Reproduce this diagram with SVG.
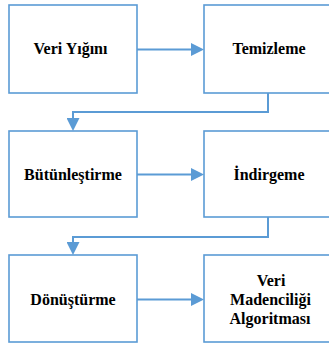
<svg xmlns="http://www.w3.org/2000/svg" width="329" height="347" viewBox="0 0 329 347">
<style>
.box{fill:#fff;stroke:#5B9BD5;stroke-width:1.6}
.conn{fill:none;stroke:#5B9BD5;stroke-width:2}
</style>
<defs>
<marker id="ah" markerUnits="userSpaceOnUse" markerWidth="13" markerHeight="13" refX="2" refY="6.5" orient="auto">
<path d="M0,0 L13,6.5 L0,13 Z" fill="#5B9BD5"/>
</marker>
</defs>
<rect width="329" height="347" fill="#fff"/>
<g id="n1"><rect class="box" x="9" y="5" width="128" height="88"/><text x="70.5" y="53.5" font-family="Liberation Serif" font-weight="bold" font-size="16" text-anchor="middle">Veri Yığını</text></g>
<g id="n2"><rect class="box" x="204" y="5" width="130" height="88"/><text x="269" y="53.5" font-family="Liberation Serif" font-weight="bold" font-size="16" text-anchor="middle">Temizleme</text></g>
<g id="n3"><rect class="box" x="9" y="131" width="128" height="86"/><text x="73" y="179.5" font-family="Liberation Serif" font-weight="bold" font-size="16" text-anchor="middle">Bütünleştirme</text></g>
<g id="n4"><rect class="box" x="204" y="131" width="130" height="86"/><text x="269" y="179.5" font-family="Liberation Serif" font-weight="bold" font-size="16" text-anchor="middle">İndirgeme</text></g>
<g id="n5"><rect class="box" x="9" y="255" width="128" height="87"/><text x="73" y="305" font-family="Liberation Serif" font-weight="bold" font-size="16" text-anchor="middle">Dönüştürme</text></g>
<g id="n6"><rect class="box" x="204" y="255" width="130" height="87"/>
<text x="271" y="286" font-family="Liberation Serif" font-weight="bold" font-size="16" text-anchor="middle">Veri</text>
<text x="270.5" y="305" font-family="Liberation Serif" font-weight="bold" font-size="16" text-anchor="middle">Madenciliği</text>
<text x="270" y="323.5" font-family="Liberation Serif" font-weight="bold" font-size="16" text-anchor="middle">Algoritması</text></g>
<g id="connectors">
<path class="conn" d="M137 49.5 H193" marker-end="url(#ah)"/>
<path class="conn" d="M268 93 V112 H73 V120" marker-end="url(#ah)"/>
<path class="conn" d="M137 174.5 H193" marker-end="url(#ah)"/>
<path class="conn" d="M268 217 V237 H73 V244" marker-end="url(#ah)"/>
<path class="conn" d="M137 299.5 H193" marker-end="url(#ah)"/>
</g>
</svg>
